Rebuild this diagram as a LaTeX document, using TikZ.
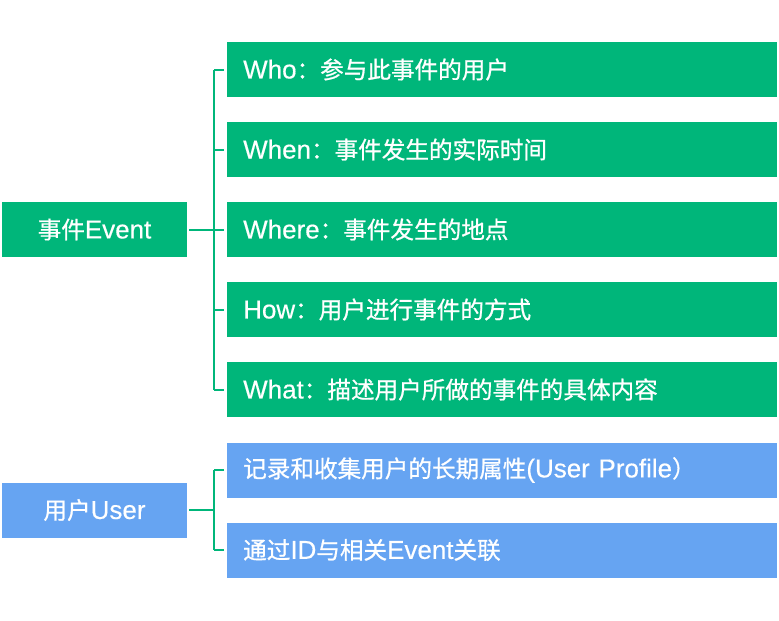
\documentclass[tikz,border=0pt]{standalone}
\usepackage{fontspec}
\setmainfont{Liberation Sans}[Scale=1.1,RawFeature={embolden=0.4}]
\newfontfamily\cjk{Noto Sans CJK SC}[RawFeature={embolden=0.8}]
\begin{document}
\begin{tikzpicture}[x=1pt,y=-1pt]
        \definecolor{evgreen}{RGB}{0,182,122}
        \definecolor{usblue}{RGB}{102,164,242}
        \tikzset{
            box/.style={minimum height=55pt, inner sep=0pt, text=white,
                font=\fontsize{23.6}{28}\selectfont},
            rootbox/.style={box, minimum width=185pt},
            leafbox/.style={box, anchor=west, minimum width=550pt,
                text width=518pt, align=left},
            link/.style={draw=evgreen, line width=2pt}
        }
        \useasboundingbox (0,0) rectangle (779,621);

        % Event branch
        \node[rootbox, fill=evgreen] (event) at (94.5,229.5) {{\cjk 事件}Event};
        \node[leafbox, fill=evgreen] (who) at (227,69.5) {Who{\cjk ：参与此事件的用户}};
        \node[leafbox, fill=evgreen] (when) at (227,149.5) {When{\cjk ：事件发生的实际时间}};
        \node[leafbox, fill=evgreen] (where) at (227,229.5) {Where{\cjk ：事件发生的地点}};
        \node[leafbox, fill=evgreen] (how) at (227,309.5) {How{\cjk ：用户进行事件的方式}};
        \node[leafbox, fill=evgreen] (what) at (227,389.5) {What{\cjk ：描述用户所做的事件的具体内容}};

        % User branch
        \node[rootbox, fill=usblue] (user) at (94.5,510) {{\cjk 用户}User};
        \node[leafbox, fill=usblue] (profile) at (227,470) {{\cjk 记录和收集用户的长期属性}(User Profile{\cjk ）}};
        \node[leafbox, fill=usblue] (link) at (227,550) {{\cjk 通过}ID{\cjk 与相关}Event{\cjk 关联}};

        % Connectors
        \draw[link] ([xshift=-13.5pt]who.west) -- ([xshift=-13.5pt]what.west);
        \draw[link] ([xshift=2pt]event.east) -- ([xshift=-13.5pt]where.west);
        \foreach \n in {who,when,where,how,what}
            \draw[link] ([xshift=-3pt]\n.west) -- ([xshift=-13.5pt]\n.west);

        \draw[link] ([xshift=-13.5pt]profile.west) -- ([xshift=-13.5pt]link.west);
        \draw[link] ([xshift=2pt]user.east) -- ([xshift=-13.5pt]user.east -| link.west);
        \foreach \n in {profile,link}
            \draw[link] ([xshift=-3pt]\n.west) -- ([xshift=-13.5pt]\n.west);
    \end{tikzpicture}
\end{document}
